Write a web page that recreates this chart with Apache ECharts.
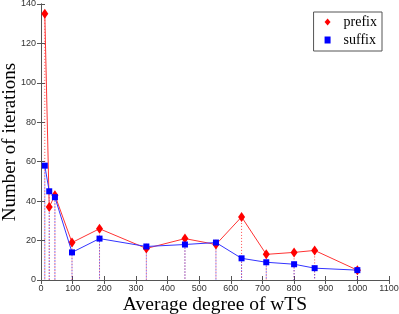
<!DOCTYPE html>
<html><head><meta charset="utf-8">
<script src="https://cdn.jsdelivr.net/npm/echarts@6/dist/echarts.min.js"></script>
<style>html,body{margin:0;padding:0;background:#fff}#c{width:399px;height:314px}</style>
</head><body><div id="c"></div>
<script>
const degrees = [12, 26, 44, 98, 185, 333, 455, 553, 634, 712, 800, 865, 1000];
const prefixIter = [135, 37, 43, 19, 26, 16, 21, 18, 32, 13, 14, 15, 5];
const suffixIter = [58, 45, 42, 14, 21, 17, 18, 19, 11, 9, 8, 6, 5];
const xTicks = [0,100,200,300,400,500,600,700,800,900,1000,1100];
const yTicks = [0,20,40,60,80,100,120,140];

const pData = degrees.map((d,i)=>[d, prefixIter[i]]);
const sData = degrees.map((d,i)=>[d, suffixIter[i]]);
function drop(color){
  return function(params, api){
    const p = api.coord([api.value(0), api.value(1)]);
    const b = api.coord([api.value(0), 0]);
    return {type:'line', shape:{x1:p[0],y1:p[1],x2:b[0],y2:b[1]},
      style:{stroke:color, lineWidth:1, lineDash:[1,2], opacity:0.7}, silent:true};
  };
}
const axisCol = '#555';
const chart = echarts.init(document.getElementById('c'));
chart.setOption({
  animation:false,
  grid:{left:41, right:10, top:4, bottom:34, containLabel:false, outerBoundsMode:'none'},
  legend:{
    data:[{name:'prefix', icon:'diamond'},{name:'suffix', icon:'rect'}],
    orient:'vertical', right:17, top:12, itemWidth:6, itemHeight:7, itemGap:2,
    borderColor:'#555', borderWidth:1, padding:[2,5,3,11],
    textStyle:{fontFamily:'Liberation Serif', fontSize:14, lineHeight:16, color:'#000', padding:[0,0,0,8]}
  },
  xAxis:[{
    type:'value', min:0, max:1100, interval:100,
    name:'Average degree of wTS', nameLocation:'middle', nameGap:15, nameMoveOverlap:false,
    nameTextStyle:{fontFamily:'Liberation Serif', fontSize:19.5, color:'#000'},
    axisLine:{onZero:false, lineStyle:{color:axisCol}},
    axisTick:{inside:true, length:4, lineStyle:{color:axisCol}},
    axisLabel:{fontSize:9, color:'#333', margin:4, formatter:v=>xTicks.includes(v)?String(v):''},
    splitLine:{show:false}
  },{
    type:'value', position:'top', min:0, max:1100, interval:100,
    axisLine:{show:true, lineStyle:{color:axisCol}},
    axisTick:{inside:true, length:4, lineStyle:{color:axisCol}},
    axisLabel:{show:false}, splitLine:{show:false}
  }],
  yAxis:[{
    type:'value', min:0, max:140, interval:20,
    name:'Number of iterations', nameLocation:'middle', nameGap:21, nameMoveOverlap:false,
    nameTextStyle:{fontFamily:'Liberation Serif', fontSize:19, color:'#000'},
    axisLine:{show:true, lineStyle:{color:axisCol}},
    axisTick:{show:true, inside:true, length:4, lineStyle:{color:axisCol}},
    axisLabel:{fontSize:9, color:'#333', margin:5, formatter:v=>yTicks.includes(v)?String(v):''},
    splitLine:{show:false}
  },{
    type:'value', position:'right', min:0, max:140, interval:20,
    axisLine:{show:true, lineStyle:{color:axisCol}},
    axisTick:{show:true, inside:true, length:4, lineStyle:{color:axisCol}},
    axisLabel:{show:false}, splitLine:{show:false}
  }],
  series:[
    {type:'custom', renderItem:drop('#ff0000'), data:pData, z:1},
    {type:'custom', renderItem:drop('#0000ff'), data:sData, z:1},
    {name:'prefix', type:'line', data:pData, symbol:'diamond', symbolSize:[7,10],
      itemStyle:{color:'#ff0000'}, lineStyle:{color:'#ff3333', width:1}, z:3},
    {name:'suffix', type:'line', data:sData, symbol:'rect', symbolSize:6,
      itemStyle:{color:'#0000ff'}, lineStyle:{color:'#3333ff', width:1}, z:4}
  ]
});
</script></body></html>
